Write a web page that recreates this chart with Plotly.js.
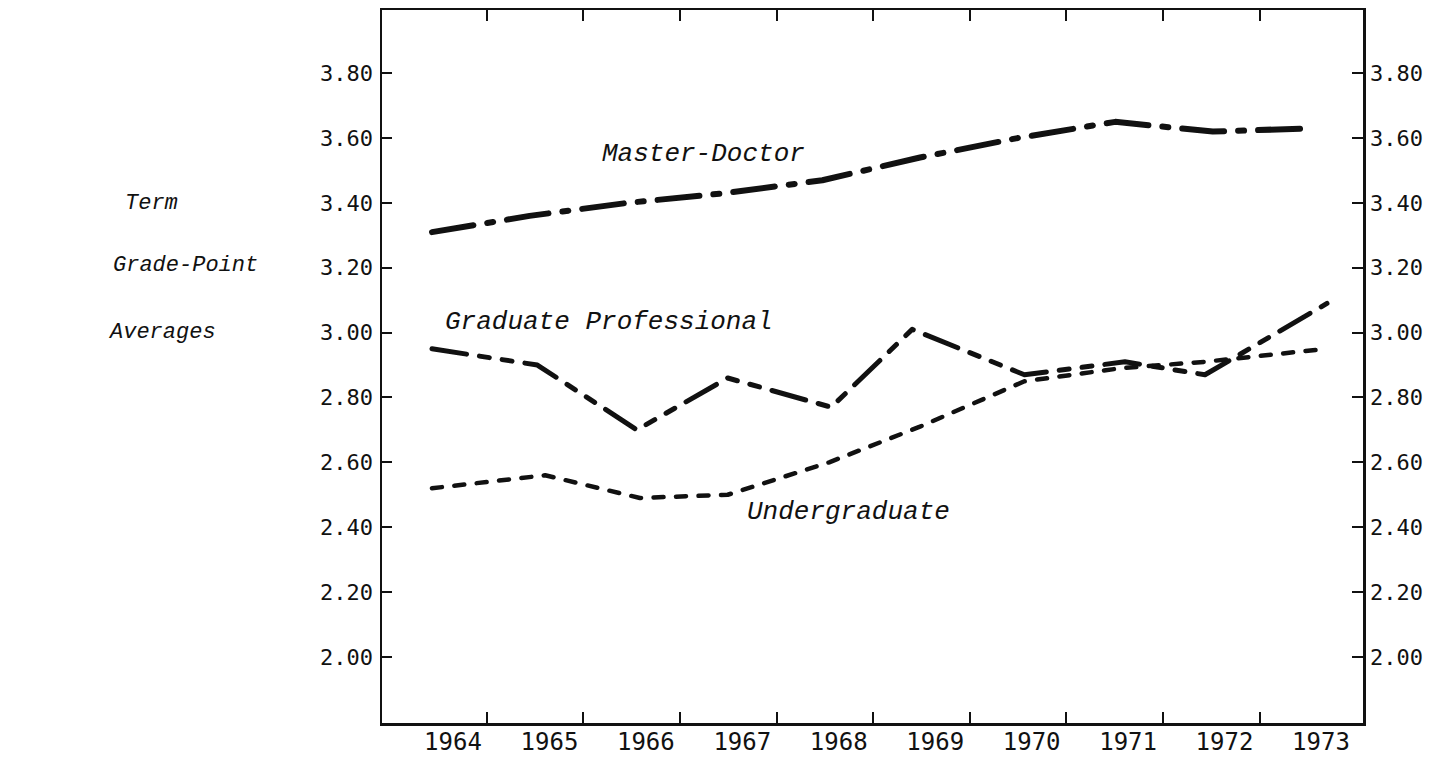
<!DOCTYPE html>
<html>
<head>
<meta charset="utf-8">
<script src="https://cdn.plot.ly/plotly-3.0.1.min.js"></script>
<style>
  html, body { margin: 0; padding: 0; background: #ffffff; }
  #chart { width: 1446px; height: 758px; }
  #chart path.js-line { stroke-linecap: round; stroke-linejoin: round; }
</style>
</head>
<body>
<div id="chart"></div>
<script>
// ---- data ----
const years = [1964, 1965, 1966, 1967, 1968, 1969, 1970, 1971, 1972, 1973];
const yearLabels = ["1964", "1965", "1966", "1967", "1968", "1969", "1970", "1971", "1972", "1973"];

// Master-Doctor (dash-dot line)
const mdPos = [1964, 1965, 1966, 1967, 1968, 1969, 1970, 1971, 1972, 1973];
const mdGPA = [3.31, 3.36, 3.40, 3.43, 3.47, 3.54, 3.60, 3.65, 3.62, 3.63];

// Graduate Professional (long dash + short dashes)
const gpPos = [1964.00, 1965.08, 1966.10, 1967.03, 1968.09, 1968.92, 1970.07, 1971.10, 1971.92, 1973.17];
const gpGPA = [2.95, 2.90, 2.70, 2.86, 2.77, 3.01, 2.87, 2.91, 2.87, 3.09];

// Undergraduate (short dashes)
const ugPos = [1964.00, 1965.16, 1966.13, 1967.03, 1968.07, 1969.00, 1970.07, 1971.05, 1971.92, 1973.16];
const ugGPA = [2.52, 2.56, 2.49, 2.50, 2.60, 2.71, 2.85, 2.89, 2.91, 2.95];

const yTicks = [2.00, 2.20, 2.40, 2.60, 2.80, 3.00, 3.20, 3.40, 3.60, 3.80];

// ---- chart ----
const ink = "#111111";
const monoFont = "DejaVu Sans Mono, monospace";
const italicFont = "Liberation Mono, DejaVu Sans Mono, monospace";

const traces = [
  { x: mdPos, y: mdGPA, mode: "lines", name: "Master-Doctor",
    line: { color: ink, width: 6, dash: "42px,14px,6px,14px" } },
  { x: gpPos, y: gpGPA, mode: "lines", name: "Graduate Professional",
    line: { color: ink, width: 5, dash: "35px,13px,10px,13px,10px,13px" } },
  { x: ugPos, y: ugGPA, mode: "lines", name: "Undergraduate",
    line: { color: ink, width: 4.5, dash: "10px,12.5px" } },
  // carriers for the label-only x axis and the right-hand y axis
  { x: [null], y: [null], xaxis: "x2", yaxis: "y", mode: "lines", showlegend: false, hoverinfo: "skip" },
  { x: [null], y: [null], xaxis: "x", yaxis: "y2", mode: "lines", showlegend: false, hoverinfo: "skip" }
];

const tickBoundaries = years.slice(0, 9).map((y, i) => 1964.56 + i * 0.99);
const yRange = [1.796, 3.995];

const layout = {
  width: 1446, height: 758,
  margin: { l: 382, r: 83, t: 10, b: 35, pad: 0 },
  paper_bgcolor: "#ffffff", plot_bgcolor: "#ffffff",
  showlegend: false,
  hovermode: false,
  xaxis: {
    range: [1963.488, 1973.539],
    tickmode: "array", tickvals: tickBoundaries, ticktext: tickBoundaries.map(() => ""),
    ticks: "inside", ticklen: 11, tickwidth: 2, tickcolor: ink,
    showline: true, linecolor: ink, linewidth: 2.5, mirror: "ticks",
    showgrid: false, zeroline: false, showticklabels: false
  },
  xaxis2: {
    overlaying: "x", side: "bottom",
    range: [1963.264, 1973.436],
    tickmode: "array", tickvals: years, ticktext: yearLabels,
    ticks: "", showline: false, showgrid: false, zeroline: false,
    tickfont: { family: monoFont, size: 24, color: ink },
    ticklabelstandoff: 2
  },
  yaxis: {
    range: yRange,
    tickmode: "array", tickvals: yTicks, ticktext: yTicks.map(v => v.toFixed(2)),
    ticks: "inside", ticklen: 10, tickwidth: 2, tickcolor: ink,
    showline: true, linecolor: ink, linewidth: 2.5,
    showgrid: false, zeroline: false,
    tickfont: { family: monoFont, size: 22, color: ink },
    ticklabelstandoff: 2
  },
  yaxis2: {
    overlaying: "y", side: "right",
    range: yRange,
    tickmode: "array", tickvals: yTicks, ticktext: yTicks.map(v => v.toFixed(2)),
    ticks: "inside", ticklen: 11, tickwidth: 2, tickcolor: ink,
    showline: true, linecolor: ink, linewidth: 2.5,
    showgrid: false, zeroline: false,
    tickfont: { family: monoFont, size: 22, color: ink },
    ticklabelstandoff: 0
  },
  annotations: [
    { text: "Master-Doctor", x: 1966.78, y: 3.551, xref: "x", yref: "y",
      showarrow: false, font: { family: italicFont, size: 26, color: ink, style: "italic" } },
    { text: "Graduate Professional", x: 1965.81, y: 3.033, xref: "x", yref: "y",
      showarrow: false, font: { family: italicFont, size: 26, color: ink, style: "italic" } },
    { text: "Undergraduate", x: 1968.27, y: 2.446, xref: "x", yref: "y",
      showarrow: false, font: { family: italicFont, size: 26, color: ink, style: "italic" } },
    { text: "Term", x: (123 - 382) / 981, y: (723 - 189) / 713, xref: "paper", yref: "paper",
      showarrow: false, font: { family: italicFont, size: 22, color: ink, style: "italic" } },
    { text: "Grade-Point", x: (111 - 382) / 981, y: (723 - 265) / 713, xref: "paper", yref: "paper",
      showarrow: false, font: { family: italicFont, size: 22, color: ink, style: "italic" } },
    { text: "Averages", x: (106 - 382) / 981, y: (723 - 333) / 713, xref: "paper", yref: "paper",
      showarrow: false, font: { family: italicFont, size: 22, color: ink, style: "italic" } }
  ]
};

Plotly.newPlot("chart", traces, layout, { staticPlot: true, displayModeBar: false });
</script>
</body>
</html>
